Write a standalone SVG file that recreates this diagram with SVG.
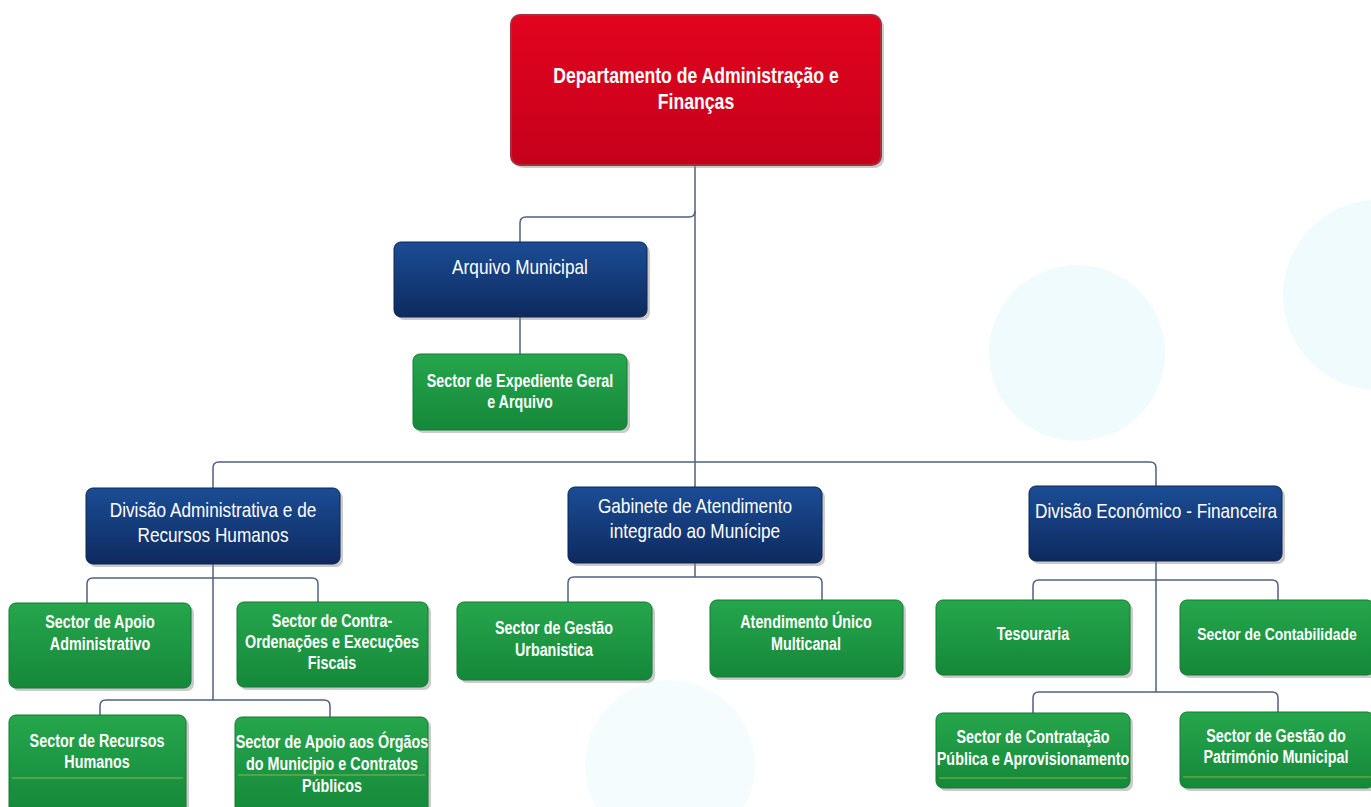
<svg xmlns="http://www.w3.org/2000/svg" width="1371" height="807" viewBox="0 0 1371 807">
<defs>
<linearGradient id="gRed" x1="0" y1="0" x2="0" y2="1"><stop offset="0" stop-color="#e2041f"/><stop offset="1" stop-color="#c5001b"/></linearGradient>
<linearGradient id="gBlue" x1="0" y1="0" x2="0" y2="1"><stop offset="0" stop-color="#1b4d95"/><stop offset="1" stop-color="#0e2a5f"/></linearGradient>
<linearGradient id="gGreen" x1="0" y1="0" x2="0" y2="1"><stop offset="0" stop-color="#26a64c"/><stop offset="1" stop-color="#15883a"/></linearGradient>
<style>
.sh{fill:#8c8c8c;opacity:.45}
.red{fill:url(#gRed);stroke:#a5303d;stroke-width:2}
.blue{fill:url(#gBlue);stroke:#0c2552;stroke-width:1}
.green{fill:url(#gGreen);stroke:#137a34;stroke-width:1}
.gl{stroke:#9fbf4a;stroke-width:1.5;opacity:.55}
.t{fill:#ffffff;font-family:"Liberation Sans",Arial,sans-serif;text-anchor:middle}
.tr{font-size:21.5px;font-weight:bold}
.tb{font-size:21px}
.tg{font-size:17.5px;font-weight:bold}
.c{fill:none;stroke:#50607e;stroke-width:1.5}
</style>
</defs>
<rect width="1371" height="807" fill="#ffffff"/>
<g id="bg" fill="#f0fbfd">
<circle cx="1077" cy="353" r="88"/>
<circle cx="1378" cy="295" r="95"/>
<circle cx="670" cy="765" r="85" opacity=".7"/>
</g>
<g id="connectors" class="c">
<path d="M695 165 V487"/>
<path d="M695 211 Q695 217 689 217 H526 Q520 217 520 223 V242"/>
<path d="M520 317 V354"/>
<path d="M213 488 V468 Q213 462 219 462 H1150 Q1156 462 1156 468 V486"/>
<path d="M213 564 V700"/>
<path d="M87 603 V584 Q87 578 93 578 H312 Q318 578 318 584 V602"/>
<path d="M100 715 V706 Q100 700 106 700 H324 Q330 700 330 706 V717"/>
<path d="M695 563 V577"/>
<path d="M568 602 V583 Q568 577 574 577 H816 Q822 577 822 583 V600"/>
<path d="M1156 561 V692"/>
<path d="M1033 600 V586 Q1033 580 1039 580 H1272 Q1278 580 1278 586 V600"/>
<path d="M1033 713 V698 Q1033 692 1039 692 H1272 Q1278 692 1278 698 V712"/>
</g>
<g id="n-daf">
<rect class="sh" x="514" y="18" width="370" height="150" rx="9"/>
<rect class="red" x="511" y="15" width="370" height="150" rx="9"/>
<g transform="translate(696 0) scale(0.82 1)">
<text class="t tr" x="0" y="83">Departamento de Administração e</text>
<text class="t tr" x="0" y="109">Finanças</text>
</g>
</g>
<g id="n-arquivo">
<rect class="sh" x="397" y="245" width="253" height="75" rx="7"/>
<rect class="blue" x="394" y="242" width="253" height="75" rx="7"/>
<g transform="translate(520 0) scale(0.82 1)">
<text class="t tb" x="0" y="274">Arquivo Municipal</text>
</g>
</g>
<g id="n-expediente">
<rect class="sh" x="416" y="357" width="214" height="76" rx="7"/>
<rect class="green" x="413" y="354" width="214" height="76" rx="7"/>
<g transform="translate(520 0) scale(0.82 1)">
<text class="t tg" x="0" y="387">Sector de Expediente Geral</text>
<text class="t tg" x="0" y="408">e Arquivo</text>
</g>
</g>
<g id="n-dar">
<rect class="sh" x="89" y="491" width="254" height="76" rx="7"/>
<rect class="blue" x="86" y="488" width="254" height="76" rx="7"/>
<g transform="translate(213 0) scale(0.82 1)">
<text class="t tb" x="0" y="517">Divisão Administrativa e de</text>
<text class="t tb" x="0" y="542">Recursos Humanos</text>
</g>
</g>
<g id="n-gabinete">
<rect class="sh" x="571" y="490" width="254" height="76" rx="7"/>
<rect class="blue" x="568" y="487" width="254" height="76" rx="7"/>
<g transform="translate(695 0) scale(0.82 1)">
<text class="t tb" x="0" y="513">Gabinete de Atendimento</text>
<text class="t tb" x="0" y="538">integrado ao Munícipe</text>
</g>
</g>
<g id="n-def">
<rect class="sh" x="1032" y="489" width="253" height="75" rx="7"/>
<rect class="blue" x="1029" y="486" width="253" height="75" rx="7"/>
<g transform="translate(1156 0) scale(0.82 1)">
<text class="t tb" x="0" y="518">Divisão Económico - Financeira</text>
</g>
</g>
<g id="n-apoio-adm">
<rect class="sh" x="12" y="606" width="182" height="85" rx="7"/>
<rect class="green" x="9" y="603" width="182" height="85" rx="7"/>
<g transform="translate(100 0) scale(0.82 1)">
<text class="t tg" x="0" y="628">Sector de Apoio</text>
<text class="t tg" x="0" y="650">Administrativo</text>
</g>
</g>
<g id="n-contra">
<rect class="sh" x="240" y="605" width="191" height="85" rx="7"/>
<rect class="green" x="237" y="602" width="191" height="85" rx="7"/>
<g transform="translate(332 0) scale(0.82 1)">
<text class="t tg" x="0" y="627">Sector de Contra-</text>
<text class="t tg" x="0" y="648">Ordenações e Execuções</text>
<text class="t tg" x="0" y="669">Fiscais</text>
</g>
</g>
<g id="n-rh">
<rect class="sh" x="12" y="718" width="177" height="100" rx="7"/>
<rect class="green" x="9" y="715" width="177" height="100" rx="7"/>
<line class="gl" x1="12" y1="778" x2="183" y2="778"/>
<g transform="translate(97 0) scale(0.82 1)">
<text class="t tg" x="0" y="747">Sector de Recursos</text>
<text class="t tg" x="0" y="768">Humanos</text>
</g>
</g>
<g id="n-orgaos">
<rect class="sh" x="238" y="720" width="193" height="100" rx="7"/>
<rect class="green" x="235" y="717" width="193" height="100" rx="7"/>
<line class="gl" x1="238" y1="775" x2="425" y2="775"/>
<g transform="translate(332 0) scale(0.82 1)">
<text class="t tg" x="0" y="748">Sector de Apoio aos Órgãos</text>
<text class="t tg" x="0" y="770">do Municipio e Contratos</text>
<text class="t tg" x="0" y="792">Públicos</text>
</g>
</g>
<g id="n-urbanistica">
<rect class="sh" x="460" y="605" width="195" height="78" rx="7"/>
<rect class="green" x="457" y="602" width="195" height="78" rx="7"/>
<g transform="translate(554 0) scale(0.82 1)">
<text class="t tg" x="0" y="634">Sector de Gestão</text>
<text class="t tg" x="0" y="656">Urbanistica</text>
</g>
</g>
<g id="n-multicanal">
<rect class="sh" x="713" y="603" width="193" height="77" rx="7"/>
<rect class="green" x="710" y="600" width="193" height="77" rx="7"/>
<g transform="translate(806 0) scale(0.82 1)">
<text class="t tg" x="0" y="628">Atendimento Único</text>
<text class="t tg" x="0" y="650">Multicanal</text>
</g>
</g>
<g id="n-tesouraria">
<rect class="sh" x="939" y="603" width="194" height="75" rx="7"/>
<rect class="green" x="936" y="600" width="194" height="75" rx="7"/>
<g transform="translate(1033 0) scale(0.82 1)">
<text class="t tg" x="0" y="640">Tesouraria</text>
</g>
</g>
<g id="n-contabilidade">
<rect class="sh" x="1183" y="603" width="194" height="75" rx="7"/>
<rect class="green" x="1180" y="600" width="194" height="75" rx="7"/>
<g transform="translate(1277 0) scale(0.82 1)">
<text class="t tg" x="0" y="640" style="font-size:17px">Sector de Contabilidade</text>
</g>
</g>
<g id="n-contratacao">
<rect class="sh" x="939" y="716" width="194" height="75" rx="7"/>
<rect class="green" x="936" y="713" width="194" height="75" rx="7"/>
<line class="gl" x1="939" y1="778" x2="1127" y2="778"/>
<g transform="translate(1033 0) scale(0.82 1)">
<text class="t tg" x="0" y="743">Sector de Contratação</text>
<text class="t tg" x="0" y="765">Pública e Aprovisionamento</text>
</g>
</g>
<g id="n-patrimonio">
<rect class="sh" x="1183" y="715" width="194" height="76" rx="7"/>
<rect class="green" x="1180" y="712" width="194" height="76" rx="7"/>
<line class="gl" x1="1183" y1="777" x2="1371" y2="777"/>
<g transform="translate(1276 0) scale(0.82 1)">
<text class="t tg" x="0" y="742">Sector de Gestão do</text>
<text class="t tg" x="0" y="763">Património Municipal</text>
</g>
</g>
</svg>
